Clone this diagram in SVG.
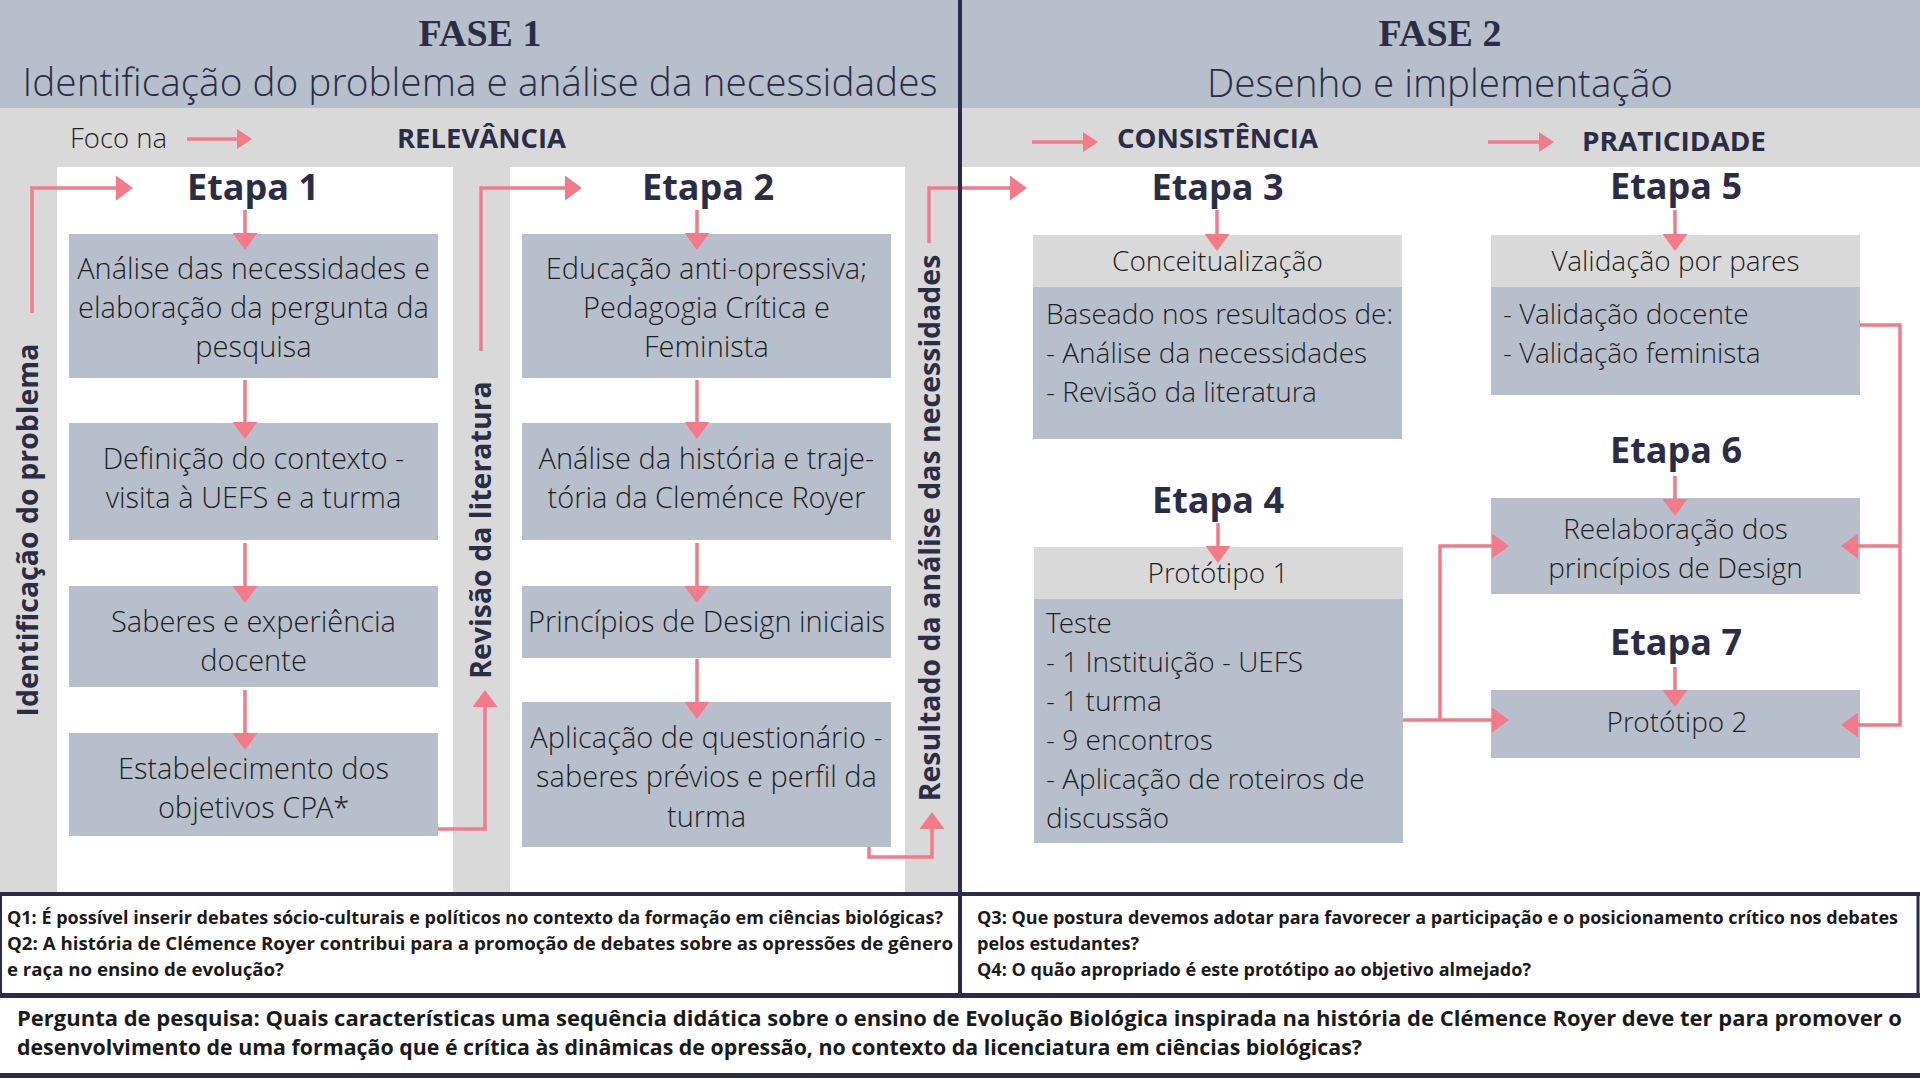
<svg xmlns="http://www.w3.org/2000/svg" width="1920" height="1080" viewBox="0 0 1920 1080">
<defs>
<style>
.box{fill:#b8bfcc}
.hd{fill:#d9d9d9}
.bt{font-family:"Open Sans Light","Open Sans","Liberation Sans",sans-serif;font-weight:300;font-size:29px;fill:#1e1e1e}
.p2{font-size:28px}
.c{text-anchor:middle}
.et{font-family:"Open Sans","Liberation Sans",sans-serif;font-weight:700;font-size:36px;fill:#2a2d45;text-anchor:middle}
.vt{font-family:"Open Sans","Liberation Sans",sans-serif;font-weight:700;font-size:28.5px;fill:#2a2d45;text-anchor:middle}
.lb{font-family:"Open Sans","Liberation Sans",sans-serif;font-weight:700;font-size:27px;fill:#2a2d45}
.q{font-family:"Open Sans","Liberation Sans",sans-serif;font-weight:700;font-size:17px;fill:#1a1a1a}
.rq{font-family:"Open Sans","Liberation Sans",sans-serif;font-weight:700;font-size:21px;fill:#1a1a1a}
.cn{fill:none;stroke:#f27a89;stroke-width:3.5}
.dk{stroke:#2a2d45;fill:none}
</style>
<marker id="ah" markerUnits="userSpaceOnUse" markerWidth="17" markerHeight="25" refX="0" refY="12.5" orient="auto" viewBox="0 0 17 25">
<path d="M0,0 L17,12.5 L0,25 Z" fill="#f27a89"/>
</marker>
<marker id="as" markerUnits="userSpaceOnUse" markerWidth="15" markerHeight="20" refX="0" refY="10" orient="auto" viewBox="0 0 15 20">
<path d="M0,0 L15,10 L0,20 Z" fill="#f27a89"/>
</marker>
</defs>

<g id="background">
<rect x="0" y="0" width="1920" height="1080" fill="#ffffff"/>
<rect x="0" y="0" width="1920" height="108" fill="#b8bfcc"/>
<rect x="0" y="108" width="960" height="785" class="hd"/>
<rect x="960" y="108" width="960" height="59" class="hd"/>
<rect x="57" y="167" width="396" height="726" fill="#ffffff"/>
<rect x="510" y="167" width="395" height="726" fill="#ffffff"/>
</g>

<g id="headers">
<text x="480" y="46" text-anchor="middle" font-family="'Liberation Serif',serif" font-weight="700" font-size="38" fill="#2a2d45">FASE 1</text>
<text x="480" y="96" text-anchor="middle" font-family="'Open Sans Light','Open Sans','Liberation Sans',sans-serif" font-weight="300" font-size="38" fill="#2a2d45" textLength="915" lengthAdjust="spacingAndGlyphs">Identificação do problema e análise da necessidades</text>
<text x="1440" y="46" text-anchor="middle" font-family="'Liberation Serif',serif" font-weight="700" font-size="38" fill="#2a2d45">FASE 2</text>
<text x="1440" y="97" text-anchor="middle" font-family="'Open Sans Light','Open Sans','Liberation Sans',sans-serif" font-weight="300" font-size="38" fill="#2a2d45" textLength="466" lengthAdjust="spacingAndGlyphs">Desenho e implementação</text>
<text x="70" y="148" font-family="'Open Sans Light','Open Sans','Liberation Sans',sans-serif" font-weight="300" font-size="27.5" fill="#1e1e1e">Foco na</text>
<text x="397" y="148" class="lb" textLength="169" lengthAdjust="spacingAndGlyphs">RELEVÂNCIA</text>
<text x="1117" y="148" class="lb" textLength="201" lengthAdjust="spacingAndGlyphs">CONSISTÊNCIA</text>
<text x="1582" y="151" class="lb" textLength="184" lengthAdjust="spacingAndGlyphs">PRATICIDADE</text>
</g>

<g id="side-labels">
<text class="vt" transform="translate(38,530) rotate(-90)">Identificação do problema</text>
<text class="vt" transform="translate(491,530) rotate(-90)">Revisão da literatura</text>
<text class="vt" transform="translate(940,528) rotate(-90)" font-size="28">Resultado da análise das necessidades</text>
</g>

<g id="etapa1">
<text class="et" x="253" y="200">Etapa 1</text>
<g id="e1-b1"><rect class="box" x="69" y="234" width="369" height="144"/>
<text class="bt c" x="253.5" y="279">Análise das necessidades e</text>
<text class="bt c" x="253.5" y="318">elaboração da pergunta da</text>
<text class="bt c" x="253.5" y="357">pesquisa</text></g>
<g id="e1-b2"><rect class="box" x="69" y="423" width="369" height="117"/>
<text class="bt c" x="253.5" y="469">Definição do contexto -</text>
<text class="bt c" x="253.5" y="508">visita à UEFS e a turma</text></g>
<g id="e1-b3"><rect class="box" x="69" y="586" width="369" height="101"/>
<text class="bt c" x="253.5" y="632">Saberes e experiência</text>
<text class="bt c" x="253.5" y="671">docente</text></g>
<g id="e1-b4"><rect class="box" x="69" y="733" width="369" height="103"/>
<text class="bt c" x="253.5" y="779">Estabelecimento dos</text>
<text class="bt c" x="253.5" y="818">objetivos CPA*</text></g>
</g>

<g id="etapa2">
<text class="et" x="708" y="200">Etapa 2</text>
<g id="e2-b1"><rect class="box" x="522" y="234" width="369" height="144"/>
<text class="bt c" x="706.5" y="279">Educação anti-opressiva;</text>
<text class="bt c" x="706.5" y="318">Pedagogia Crítica e</text>
<text class="bt c" x="706.5" y="357">Feminista</text></g>
<g id="e2-b2"><rect class="box" x="522" y="423" width="369" height="117"/>
<text class="bt c" x="706.5" y="469">Análise da história e traje-</text>
<text class="bt c" x="706.5" y="508">tória da Cleménce Royer</text></g>
<g id="e2-b3"><rect class="box" x="522" y="586" width="369" height="72"/>
<text class="bt c" x="706.5" y="632">Princípios de Design iniciais</text></g>
<g id="e2-b4"><rect class="box" x="522" y="702" width="369" height="145"/>
<text class="bt c" x="706.5" y="748">Aplicação de questionário -</text>
<text class="bt c" x="706.5" y="787">saberes prévios e perfil da</text>
<text class="bt c" x="706.5" y="827">turma</text></g>
</g>

<g id="etapa3">
<text class="et" x="1217.5" y="200">Etapa 3</text>
<rect class="hd" x="1033" y="235" width="369" height="52"/>
<rect class="box" x="1033" y="287" width="369" height="152"/>
<text class="bt p2 c" x="1217.5" y="271">Conceitualização</text>
<text class="bt p2" x="1046" y="324">Baseado nos resultados de:</text>
<text class="bt p2" x="1046" y="363">- Análise da necessidades</text>
<text class="bt p2" x="1046" y="402">- Revisão da literatura</text>
</g>

<g id="etapa4">
<text class="et" x="1218" y="513">Etapa 4</text>
<rect class="hd" x="1034" y="547" width="369" height="52"/>
<rect class="box" x="1034" y="599" width="369" height="244"/>
<text class="bt p2 c" x="1218" y="583">Protótipo 1</text>
<text class="bt p2" x="1046" y="633">Teste</text>
<text class="bt p2" x="1046" y="672">- 1 Instituição - UEFS</text>
<text class="bt p2" x="1046" y="711">- 1 turma</text>
<text class="bt p2" x="1046" y="750">- 9 encontros</text>
<text class="bt p2" x="1046" y="789">- Aplicação de roteiros de</text>
<text class="bt p2" x="1046" y="828">discussão</text>
</g>

<g id="etapa5">
<text class="et" x="1676" y="199">Etapa 5</text>
<rect class="hd" x="1491" y="235" width="369" height="52"/>
<rect class="box" x="1491" y="287" width="369" height="108"/>
<text class="bt p2 c" x="1675.5" y="271">Validação por pares</text>
<text class="bt p2" x="1503" y="324">- Validação docente</text>
<text class="bt p2" x="1503" y="363">- Validação feminista</text>
</g>

<g id="etapa6">
<text class="et" x="1676" y="463">Etapa 6</text>
<rect class="box" x="1491" y="498" width="369" height="96"/>
<text class="bt p2 c" x="1675.5" y="539">Reelaboração dos</text>
<text class="bt p2 c" x="1675.5" y="578">princípios de Design</text>
</g>

<g id="etapa7">
<text class="et" x="1676" y="655">Etapa 7</text>
<rect class="box" x="1491" y="690" width="369" height="68"/>
<text class="bt p2 c" x="1677" y="732">Protótipo 2</text>
</g>

<g id="connectors">
<path class="cn" d="M187,139 H237" marker-end="url(#as)"/>
<path class="cn" d="M1032,142 H1083" marker-end="url(#as)"/>
<path class="cn" d="M1488,142 H1539" marker-end="url(#as)"/>

<path class="cn" d="M245,210 V233" marker-end="url(#ah)"/>
<path class="cn" d="M245,380 V422" marker-end="url(#ah)"/>
<path class="cn" d="M245,543 V586" marker-end="url(#ah)"/>
<path class="cn" d="M245,690 V733" marker-end="url(#ah)"/>

<path class="cn" d="M697,210 V233" marker-end="url(#ah)"/>
<path class="cn" d="M697,380 V422" marker-end="url(#ah)"/>
<path class="cn" d="M697,543 V586" marker-end="url(#ah)"/>
<path class="cn" d="M697,659 V702" marker-end="url(#ah)"/>

<path class="cn" d="M1217,210 V234" marker-end="url(#ah)"/>
<path class="cn" d="M1218,523 V546" marker-end="url(#ah)"/>
<path class="cn" d="M1675,210 V234" marker-end="url(#ah)"/>
<path class="cn" d="M1675,476 V499" marker-end="url(#ah)"/>
<path class="cn" d="M1675,667 V690" marker-end="url(#ah)"/>

<path class="cn" d="M32,313 V188 H116" marker-end="url(#ah)"/>
<path class="cn" d="M481,351 V188 H565" marker-end="url(#ah)"/>
<path class="cn" d="M929,243 V188 H1010" marker-end="url(#ah)"/>
<path class="cn" d="M438,829 H485 V707" marker-end="url(#ah)"/>
<path class="cn" d="M869,847 V857 H932 V829" marker-end="url(#ah)"/>

<path class="cn" d="M1403,720 H1492" marker-end="url(#ah)"/>
<path class="cn" d="M1440,720 V546 H1492" marker-end="url(#ah)"/>
<path class="cn" d="M1860,325 H1900 V725 H1858" marker-end="url(#ah)"/>
<path class="cn" d="M1900,546 H1858" marker-end="url(#ah)"/>
</g>

<g id="questions">
<text class="q" x="7" y="924" textLength="936" lengthAdjust="spacingAndGlyphs">Q1: É possível inserir debates sócio-culturais e políticos no contexto da formação em ciências biológicas?</text>
<text class="q" x="7" y="950" textLength="946" lengthAdjust="spacingAndGlyphs">Q2: A história de Clémence Royer contribui para a promoção de debates sobre as opressões de gênero</text>
<text class="q" x="7" y="976" textLength="277" lengthAdjust="spacingAndGlyphs">e raça no ensino de evolução?</text>
<text class="q" x="977" y="924" textLength="921" lengthAdjust="spacingAndGlyphs">Q3: Que postura devemos adotar para favorecer a participação e o posicionamento crítico nos debates</text>
<text class="q" x="977" y="950" textLength="162" lengthAdjust="spacingAndGlyphs">pelos estudantes?</text>
<text class="q" x="977" y="976" textLength="554" lengthAdjust="spacingAndGlyphs">Q4: O quão apropriado é este protótipo ao objetivo almejado?</text>
</g>

<g id="research-question">
<text class="rq" x="17" y="1026" textLength="1885" lengthAdjust="spacingAndGlyphs">Pergunta de pesquisa: Quais características uma sequência didática sobre o ensino de Evolução Biológica inspirada na história de Clémence Royer deve ter para promover o</text>
<text class="rq" x="17" y="1055" textLength="1345" lengthAdjust="spacingAndGlyphs">desenvolvimento de uma formação que é crítica às dinâmicas de opressão, no contexto da licenciatura em ciências biológicas?</text>
</g>

<g id="frame">
<line class="dk" x1="960" y1="0" x2="960" y2="995" stroke-width="4"/>
<line class="dk" x1="0" y1="894" x2="1920" y2="894" stroke-width="4"/>
<line class="dk" x1="0" y1="995.5" x2="1920" y2="995.5" stroke-width="5"/>
<line class="dk" x1="0" y1="1075.5" x2="1920" y2="1075.5" stroke-width="5"/>
<line class="dk" x1="1" y1="894" x2="1" y2="995" stroke-width="2"/>
<line class="dk" x1="1918" y1="894" x2="1918" y2="995" stroke-width="3"/>
</g>
</svg>
